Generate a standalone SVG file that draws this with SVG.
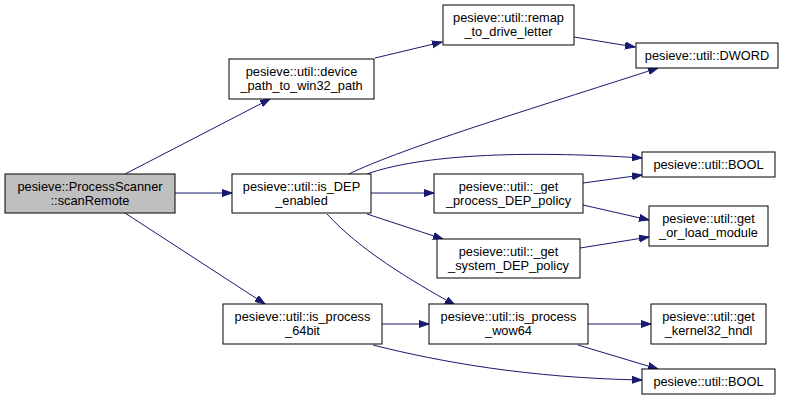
<svg xmlns="http://www.w3.org/2000/svg" width="787" height="402" viewBox="0 0 787 402">
<style>
.n rect{fill:#fff;stroke:#000;stroke-width:1}
.n.root rect{fill:#bfbfbf}
.n text{font-family:"Liberation Sans",Arial,sans-serif;font-size:12.8px;text-anchor:middle;fill:#000}
.e path{fill:none;stroke:#191970;stroke-width:1}
</style>
<defs>
<marker id="ah" markerUnits="userSpaceOnUse" markerWidth="12" markerHeight="9" refX="10" refY="4" orient="auto">
<path d="M0,0.5 L10,4 L0,7.5 z" fill="#191970" stroke="#191970"/>
</marker>
</defs>
<rect width="787" height="402" fill="#fff"/>
<g id="edges" class="e">
<path marker-end="url(#ah)" d="M125,174 L270,99"/>
<path marker-end="url(#ah)" d="M175,193 L232,193"/>
<path marker-end="url(#ah)" d="M125,213 L265,304"/>
<path marker-end="url(#ah)" d="M375,58 L442,42"/>
<path marker-end="url(#ah)" d="M574,37 L635,47"/>
<path marker-end="url(#ah)" d="M347,175 C400,148 560,100 658,68"/>
<path marker-end="url(#ah)" d="M367,174 C420,155 520,150 642,158"/>
<path marker-end="url(#ah)" d="M371,193 L434,193"/>
<path marker-end="url(#ah)" d="M367,214 L443,239"/>
<path marker-end="url(#ah)" d="M327,214 C360,250 410,280 455,305"/>
<path marker-end="url(#ah)" d="M583,183 L642,175"/>
<path marker-end="url(#ah)" d="M583,205 L649,220"/>
<path marker-end="url(#ah)" d="M580,248 L649,237"/>
<path marker-end="url(#ah)" d="M382,324 L429,324"/>
<path marker-end="url(#ah)" d="M373,345 C440,362 530,378 642,380"/>
<path marker-end="url(#ah)" d="M588,324 L651,324"/>
<path marker-end="url(#ah)" d="M578,345 L658,369"/>
</g>
<g id="n_scanRemote" class="n root"><rect x="5" y="174" width="170" height="39"/><text x="90" y="191">pesieve::ProcessScanner</text><text x="90" y="205">::scanRemote</text></g>
<g id="n_device_path" class="n"><rect x="229" y="59" width="145" height="40"/><text x="301.5" y="76">pesieve::util::device</text><text x="301.5" y="90">_path_to_win32_path</text></g>
<g id="n_remap" class="n"><rect x="443" y="5" width="131" height="40"/><text x="508.5" y="22">pesieve::util::remap</text><text x="508.5" y="36">_to_drive_letter</text></g>
<g id="n_dword" class="n"><rect x="636" y="43" width="142" height="25"/><text x="707" y="59.5">pesieve::util::DWORD</text></g>
<g id="n_is_dep" class="n"><rect x="232" y="174" width="139" height="39"/><text x="301.5" y="191">pesieve::util::is_DEP</text><text x="301.5" y="205">_enabled</text></g>
<g id="n_get_process" class="n"><rect x="434" y="174" width="149" height="39"/><text x="508.5" y="191">pesieve::util::_get</text><text x="508.5" y="205">_process_DEP_policy</text></g>
<g id="n_get_system" class="n"><rect x="437" y="239" width="143" height="39"/><text x="508.5" y="256">pesieve::util::_get</text><text x="508.5" y="270">_system_DEP_policy</text></g>
<g id="n_bool1" class="n"><rect x="642" y="152" width="133" height="25"/><text x="708.5" y="168.5">pesieve::util::BOOL</text></g>
<g id="n_get_or_load" class="n"><rect x="649" y="206" width="119" height="40"/><text x="708.5" y="223">pesieve::util::get</text><text x="708.5" y="237">_or_load_module</text></g>
<g id="n_is_64bit" class="n"><rect x="223" y="304" width="159" height="40"/><text x="302.5" y="321">pesieve::util::is_process</text><text x="302.5" y="335">_64bit</text></g>
<g id="n_is_wow64" class="n"><rect x="429" y="304" width="159" height="40"/><text x="508.5" y="321">pesieve::util::is_process</text><text x="508.5" y="335">_wow64</text></g>
<g id="n_kernel32" class="n"><rect x="651" y="304" width="115" height="40"/><text x="708.5" y="321">pesieve::util::get</text><text x="708.5" y="335">_kernel32_hndl</text></g>
<g id="n_bool2" class="n"><rect x="642" y="369" width="133" height="25"/><text x="708.5" y="385.5">pesieve::util::BOOL</text></g>
</svg>
